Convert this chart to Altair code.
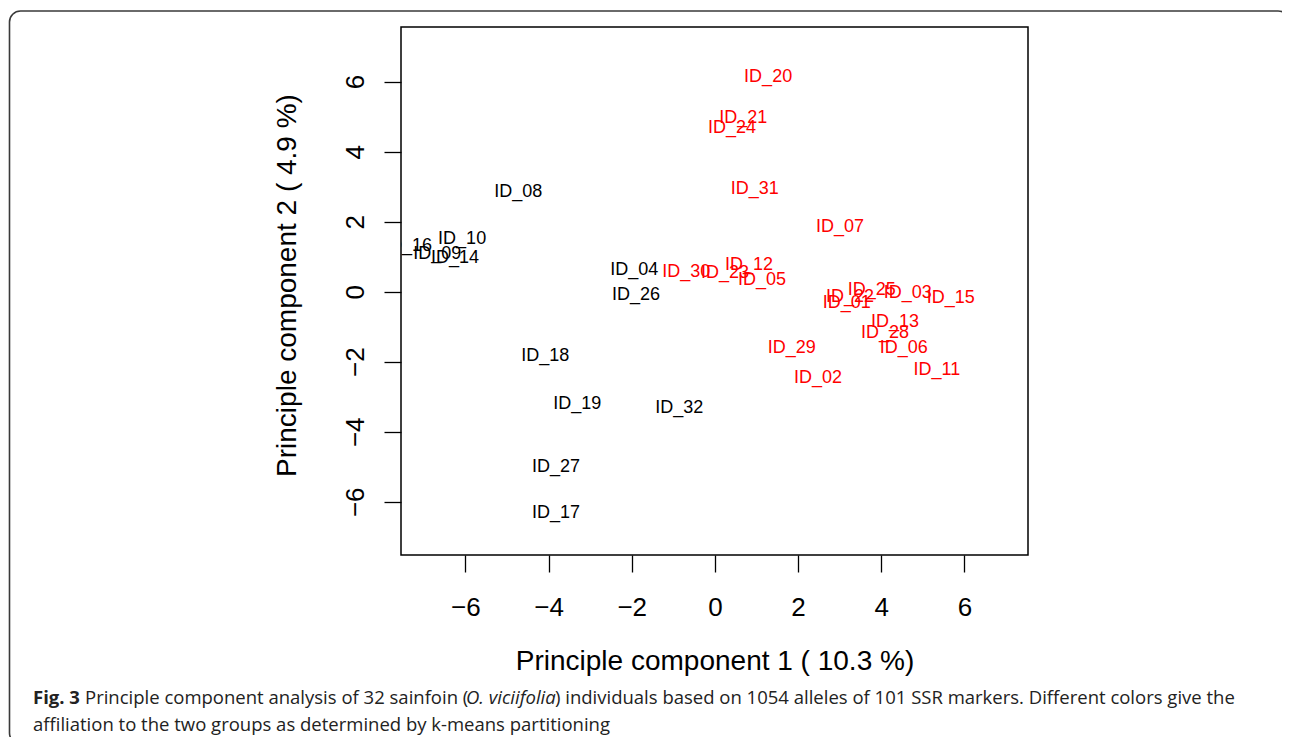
import altair as alt
import pandas as pd

labels = ["ID_01", "ID_02", "ID_03", "ID_04", "ID_05", "ID_06", "ID_07", "ID_08",
          "ID_09", "ID_10", "ID_11", "ID_12", "ID_13", "ID_14", "ID_15", "ID_16",
          "ID_17", "ID_18", "ID_19", "ID_20", "ID_21", "ID_22", "ID_23", "ID_24",
          "ID_25", "ID_26", "ID_27", "ID_28", "ID_29", "ID_30", "ID_31", "ID_32"]
pc1 = [3.17, 2.48, 4.64, -1.94, 1.13, 4.54, 3.01, -4.73,
       -6.68, -6.08, 5.34, 0.82, 4.33, -6.25, 5.67, -7.38,
       -3.82, -4.08, -3.31, 1.28, 0.68, 3.25, 0.24, 0.41,
       3.77, -1.90, -3.82, 4.09, 1.85, -0.69, 0.96, -0.86]
pc2 = [-0.32, -2.47, -0.04, 0.62, 0.33, -1.61, 1.85, 2.85,
       1.08, 1.51, -2.24, 0.76, -0.86, 0.96, -0.18, 1.31,
       -6.33, -1.84, -3.21, 6.13, 4.96, -0.15, 0.53, 4.68,
       0.05, -0.09, -5.01, -1.18, -1.61, 0.56, 2.93, -3.32]
group = [2, 2, 2, 1, 2, 2, 2, 1,
         1, 1, 2, 2, 2, 1, 2, 1,
         1, 1, 1, 2, 2, 2, 2, 2,
         2, 1, 1, 2, 2, 2, 2, 1]

tick_values = [-6, -4, -2, 0, 2, 4, 6]
x_title = "Principle component 1 ( 10.3 %)"
y_title = "Principle component 2 ( 4.9 %)"

caption_bold = "Fig. 3"
caption_a = "Principle component analysis of 32 sainfoin ("
caption_italic = "O. viciifolia"
caption_b = ") individuals based on 1054 alleles of 101 SSR markers. Different colors give the"
caption_line2 = "affiliation to the two groups as determined by k-means partitioning"

df = pd.DataFrame({"label": labels, "pc1": pc1, "pc2": pc2, "group": group})
one = pd.DataFrame({"d": [0]})

x_enc = alt.X("pc1:Q",
              scale=alt.Scale(domain=[-7.55, 7.53], nice=False, zero=False),
              axis=alt.Axis(values=tick_values, title=x_title, labelPadding=22,
                            titleBaseline="alphabetic", titleY=114))
y_enc = alt.Y("pc2:Q",
              scale=alt.Scale(domain=[-7.52, 7.56], nice=False, zero=False),
              axis=alt.Axis(values=tick_values, title=y_title, labelAngle=270,
                            labelAlign="center", labelBaseline="bottom", labelPadding=16,
                            titleAngle=270, titleBaseline="alphabetic", titleAlign="center",
                            titleX=-106, titleY=258))

points = alt.Chart(df).mark_text(font="Liberation Sans", fontSize=18, clip=True).encode(
    x=x_enc, y=y_enc, text="label:N",
    color=alt.Color("group:N", scale=alt.Scale(domain=[1, 2], range=["#000000", "#ff0000"]),
                    legend=None),
)

frame = alt.Chart(one).mark_rect(fill="transparent", stroke="#3a3a3a", strokeWidth=1.6,
                                 cornerRadius=11).encode(
    x=alt.value(-391.5), x2=alt.value(888), y=alt.value(-16), y2=alt.value(717))

cap_font = "Open Sans"
cap_size = 18.5
cap_color = "#222222"


def cap(text, xpos, ypos, weight="normal", style="normal"):
    return alt.Chart(one).mark_text(font=cap_font, fontSize=cap_size, align="left",
                                    baseline="alphabetic", fontWeight=weight,
                                    fontStyle=style, color=cap_color).encode(
        x=alt.value(xpos), y=alt.value(ypos), text=alt.value(text))


captions = [
    cap(caption_bold, -368, 676.5, weight="bold"),
    cap(caption_a, -316, 676.5),
    cap(caption_italic, 65, 676.5, style="italic"),
    cap(caption_b, 154, 676.5),
    cap(caption_line2, -368, 703.5),
]

chart = alt.layer(frame, points, *captions).properties(
    width=627, height=528,
    padding={"left": 393, "top": 19, "right": 254, "bottom": 182},
    autosize=alt.AutoSizeParams(type="none"),
).configure_axis(
    domain=False, grid=False, tickColor="black", tickWidth=1.3, tickSize=17,
    labelFont="Liberation Sans", labelFontSize=26, labelColor="black",
    titleFont="Liberation Sans", titleFontSize=28, titleFontWeight="normal",
    titleColor="black",
).configure_view(stroke="black", strokeWidth=1.5)

chart.save("out.html", embed_options={"renderer": "svg", "actions": False})
